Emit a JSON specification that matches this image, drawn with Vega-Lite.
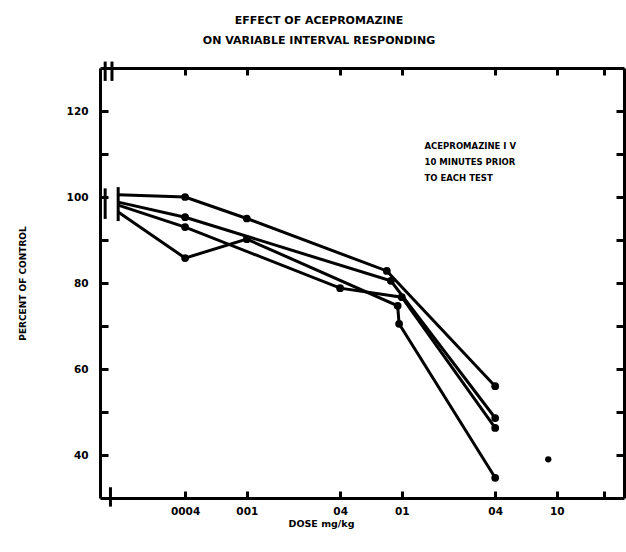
{
  "$schema": "https://vega.github.io/schema/vega-lite/v6.json",
  "width": 524,
  "height": 430,
  "autosize": {"type": "none"},
  "padding": {"left": 100, "top": 68, "right": 2, "bottom": 54},
  "background": "white",
  "title": {
    "text": ["EFFECT OF ACEPROMAZINE", "ON VARIABLE INTERVAL RESPONDING"],
    "font": "DejaVu Sans",
    "fontSize": 11,
    "fontWeight": "bold",
    "lineHeight": 20,
    "anchor": "middle",
    "dx": -43,
    "offset": 14,
    "color": "black"
  },
  "datasets": {
    "lines": [
      {"s": "A", "dose": 0.00148, "pct": 100.5},
      {"s": "A", "dose": 0.004, "pct": 100},
      {"s": "A", "dose": 0.01, "pct": 95},
      {"s": "A", "dose": 0.08, "pct": 82.8},
      {"s": "A", "dose": 0.4, "pct": 56},
      {"s": "B", "dose": 0.00148, "pct": 98.8},
      {"s": "B", "dose": 0.004, "pct": 95.3},
      {"s": "B", "dose": 0.085, "pct": 80.5},
      {"s": "B", "dose": 0.4, "pct": 48.6},
      {"s": "C", "dose": 0.00148, "pct": 98.1},
      {"s": "C", "dose": 0.004, "pct": 93},
      {"s": "C", "dose": 0.04, "pct": 78.8},
      {"s": "C", "dose": 0.1, "pct": 76.7},
      {"s": "C", "dose": 0.4, "pct": 46.3},
      {"s": "D", "dose": 0.00148, "pct": 96.5},
      {"s": "D", "dose": 0.004, "pct": 85.8},
      {"s": "D", "dose": 0.01, "pct": 90.2},
      {"s": "D", "dose": 0.094, "pct": 74.7},
      {"s": "D", "dose": 0.096, "pct": 70.5},
      {"s": "D", "dose": 0.4, "pct": 34.7}
    ],
    "single": [{"dose": 0.88, "pct": 39}],
    "breaks": [
      {"dose": 0.00122, "lo": 94.9, "hi": 102.0},
      {"dose": 0.00148, "lo": 94.4, "hi": 102.3},
      {"dose": 0.00122, "lo": 127, "hi": 131.5},
      {"dose": 0.00135, "lo": 127, "hi": 131.5},
      {"dose": 0.00132, "lo": 28, "hi": 32.5}
    ]
  },
  "layer": [
    {
      "data": {"name": "lines"},
      "mark": {"type": "line", "color": "black", "strokeWidth": 3},
      "encoding": {
        "x": {
          "field": "dose", "type": "quantitative",
          "scale": {"type": "log", "domain": [0.00113, 2.71], "nice": false},
          "axis": {
            "orient": "bottom",
            "values": [0.004, 0.01, 0.04, 0.1, 0.4, 1, 2],
            "labelExpr": "datum.value == 0.004 ? '0004' : datum.value == 0.01 ? '001' : datum.value == 0.04 ? '04' : datum.value == 0.1 ? '01' : datum.value == 0.4 ? '04' : datum.value == 1 ? '10' : ''",
            "grid": false,
            "domainColor": "black", "domainWidth": 3,
            "tickColor": "black", "tickWidth": 3, "tickSize": -7,
            "labelPadding": 15,
            "labelFont": "DejaVu Sans", "labelFontWeight": "bold", "labelFontSize": 10.5, "labelColor": "black",
            "labelFlush": false, "labelOverlap": false,
            "title": "DOSE mg/kg",
            "titleFont": "DejaVu Sans", "titleFontWeight": "bold", "titleFontSize": 9.5, "titleColor": "black",
            "titleX": 221, "titleY": 25, "titleAlign": "center", "titleBaseline": "middle"
          }
        },
        "y": {
          "field": "pct", "type": "quantitative",
          "scale": {"domain": [30, 130], "nice": false, "zero": false},
          "axis": {
            "orient": "left",
            "values": [40, 50, 60, 70, 80, 90, 100, 110, 120],
            "labelExpr": "datum.value % 20 == 0 ? datum.label : ''",
            "grid": false,
            "domainColor": "black", "domainWidth": 3,
            "tickColor": "black", "tickWidth": 3, "tickSize": -8,
            "labelPadding": 20,
            "labelFont": "DejaVu Sans", "labelFontWeight": "bold", "labelFontSize": 10.5, "labelColor": "black",
            "labelOverlap": false,
            "title": "PERCENT OF CONTROL",
            "titleFont": "DejaVu Sans", "titleFontWeight": "bold", "titleFontSize": 9, "titleColor": "black",
            "titleX": -78, "titleY": 215, "titleAlign": "center", "titleBaseline": "middle", "titleAngle": -90
          }
        },
        "detail": {"field": "s"}
      }
    },
    {
      "data": {"name": "lines"},
      "transform": [{"filter": "datum.dose > 0.002"}],
      "mark": {"type": "point", "filled": true, "color": "black", "size": 60, "opacity": 1},
      "encoding": {
        "x": {
          "field": "dose", "type": "quantitative",
          "axis": {
            "orient": "top",
            "values": [0.004, 0.01, 0.04, 0.1, 0.4, 1, 2],
            "labels": false, "title": null, "grid": false,
            "domainColor": "black", "domainWidth": 3,
            "tickColor": "black", "tickWidth": 3, "tickSize": -7
          }
        },
        "y": {
          "field": "pct", "type": "quantitative",
          "axis": {
            "orient": "right",
            "values": [40, 50, 60, 70, 80, 90, 100, 110, 120],
            "labels": false, "title": null, "grid": false,
            "domainColor": "black", "domainWidth": 3,
            "tickColor": "black", "tickWidth": 3, "tickSize": -8
          }
        }
      }
    },
    {
      "data": {"name": "single"},
      "mark": {"type": "point", "filled": true, "color": "black", "size": 40, "opacity": 1},
      "encoding": {
        "x": {"field": "dose", "type": "quantitative", "axis": null},
        "y": {"field": "pct", "type": "quantitative", "axis": null}
      }
    },
    {
      "data": {"name": "breaks"},
      "mark": {"type": "rule", "color": "black", "strokeWidth": 3, "clip": false},
      "encoding": {
        "x": {"field": "dose", "type": "quantitative", "axis": null},
        "y": {"field": "lo", "type": "quantitative", "axis": null},
        "y2": {"field": "hi"}
      }
    },
    {
      "data": {"values": [{"dose": 0.14, "pct": 112.8}]},
      "mark": {
        "type": "text", "align": "left", "baseline": "top",
        "font": "DejaVu Sans", "fontWeight": "bold", "fontSize": 8.5,
        "lineHeight": 16, "color": "black"
      },
      "encoding": {
        "x": {"field": "dose", "type": "quantitative", "axis": null},
        "y": {"field": "pct", "type": "quantitative", "axis": null},
        "text": {"value": ["ACEPROMAZINE I V", "10 MINUTES PRIOR", "TO EACH TEST"]}
      }
    }
  ],
  "resolve": {"axis": {"x": "independent", "y": "independent"}},
  "config": {"view": {"stroke": null}}
}
